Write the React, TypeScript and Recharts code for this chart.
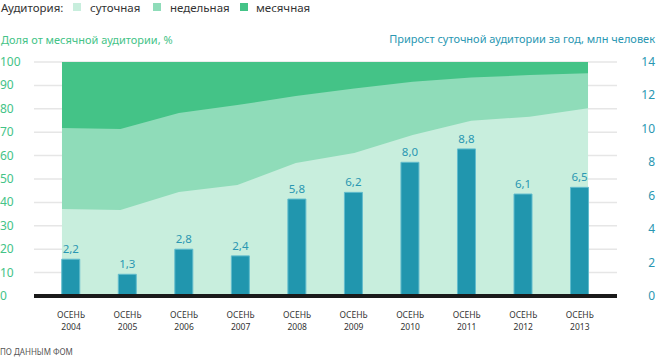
import { ComposedChart, Area, Bar, XAxis, YAxis, CartesianGrid, LabelList } from "recharts"

// Осень каждого года
const years = ["2004", "2005", "2006", "2007", "2008", "2009", "2010", "2011", "2012", "2013"]

// доля от месячной аудитории, % (накопительно)
const dailyShare = [37.2, 36.8, 44.4, 47.4, 56.8, 61.1, 68.8, 74.9, 76.6, 80.2]
const weeklyShare = [71.8, 71.4, 78.2, 81.6, 85.5, 88.7, 91.6, 93.4, 94.4, 95.2]
const monthlyShare = [100, 100, 100, 100, 100, 100, 100, 100, 100, 100]

// прирост суточной аудитории за год, млн человек
const dailyGrowth = [2.2, 1.3, 2.8, 2.4, 5.8, 6.2, 8.0, 8.8, 6.1, 6.5]

const leftTicks = [0, 10, 20, 30, 40, 50, 60, 70, 80, 90, 100]
const rightTicks = [0, 2, 4, 6, 8, 10, 12, 14]

const data = years.map((year, i) => ({
  idx: i,
  year,
  daily: dailyShare[i],
  weekly: weeklyShare[i],
  monthly: monthlyShare[i],
  growth: dailyGrowth[i],
}))

const FONT = "'Noto Sans', sans-serif"
const C_DAILY = "#c8eedd"
const C_WEEKLY = "#8fdcb9"
const C_MONTHLY = "#44c387"
const C_BAR = "#2196ae"
const C_TEAL = "#2a97b2"

const YearTick = (props: any) => {
  const { x, payload } = props
  return (
    <text textAnchor="middle" fontSize={8.5} fill="#333" fontFamily={FONT}>
      <tspan x={x} y={318}>ОСЕНЬ</tspan>
      <tspan x={x} y={330}>{years[payload.value]}</tspan>
    </text>
  )
}

const LeftTick = (props: any) => {
  const { y, payload } = props
  return (
    <text x={0} y={y + 4} textAnchor="start" fontSize={12} fill={C_MONTHLY} fontFamily={FONT}>
      {payload.value}
    </text>
  )
}

const RightTick = (props: any) => {
  const { y, payload } = props
  return (
    <text x={655} y={y + 4} textAnchor="end" fontSize={12} fill={C_TEAL} fontFamily={FONT}>
      {payload.value}
    </text>
  )
}

const legendItems = [
  { name: "суточная", color: C_DAILY, x: 73, tx: 90 },
  { name: "недельная", color: C_WEEKLY, x: 153, tx: 170 },
  { name: "месячная", color: C_MONTHLY, x: 240, tx: 256 },
]

export default function App() {
  return (
    <div style={{ position: "absolute", left: 0, top: 0, width: 656, height: 359, fontFamily: FONT }}>
      <div style={{ position: "absolute", left: 1, top: 0, fontSize: 11.5, color: "#333" }}>Аудитория:</div>
      {legendItems.map((it) => (
        <div key={it.name}>
          <div style={{ position: "absolute", left: it.x, top: 3, width: 8, height: 8, background: it.color }} />
          <div style={{ position: "absolute", left: it.tx, top: 0, fontSize: 11.5, color: "#333" }}>{it.name}</div>
        </div>
      ))}
      <div style={{ position: "absolute", left: 1, top: 32, fontSize: 11, color: C_MONTHLY }}>
        Доля от месячной аудитории, %
      </div>
      <div style={{ position: "absolute", right: 1, top: 31, fontSize: 11, color: C_TEAL, whiteSpace: "nowrap" }}>
        Прирост суточной аудитории за год, млн человек
      </div>
      <div style={{ position: "absolute", left: 0, top: 346, fontSize: 8, color: "#555" }}>ПО ДАННЫМ ФОМ</div>
      <ComposedChart
        width={656}
        height={359}
        data={data}
        margin={{ top: 62, right: 0, bottom: 0, left: 0 }}
      >
        <CartesianGrid vertical={false} stroke="#e6e6e6" strokeWidth={1.5} yAxisId="pct" />
        <XAxis
          xAxisId="area"
          dataKey="idx"
          type="number"
          orientation="top"
          height={0}
          domain={[-0.479, 9.496]}
          allowDataOverflow
          hide
        />
        <XAxis
          xAxisId="bar"
          dataKey="idx"
          type="number"
          domain={[-0.655, 9.658]}
          allowDataOverflow
          ticks={years.map((_, i) => i)}
          interval={0}
          tick={<YearTick />}
          tickLine={false}
          axisLine={{ stroke: "#1a1a1a", strokeWidth: 4 }}
          height={63}
        />
        <YAxis
          yAxisId="pct"
          orientation="left"
          width={34}
          domain={[0, 100]}
          ticks={leftTicks}
          interval={0}
          tick={<LeftTick />}
          axisLine={false}
          tickLine={false}
        />
        <YAxis
          yAxisId="mln"
          orientation="right"
          width={39}
          domain={[0, 14]}
          ticks={rightTicks}
          interval={0}
          tick={<RightTick />}
          axisLine={false}
          tickLine={false}
        />
        <Area
          xAxisId="area"
          yAxisId="pct"
          type="linear"
          dataKey="monthly"
          stroke="none"
          fill={C_MONTHLY}
          fillOpacity={1}
          isAnimationActive={false}
        />
        <Area
          xAxisId="area"
          yAxisId="pct"
          type="linear"
          dataKey="weekly"
          stroke="none"
          fill={C_WEEKLY}
          fillOpacity={1}
          isAnimationActive={false}
        />
        <Area
          xAxisId="area"
          yAxisId="pct"
          type="linear"
          dataKey="daily"
          stroke="none"
          fill={C_DAILY}
          fillOpacity={1}
          isAnimationActive={false}
        />
        <Bar
          xAxisId="bar"
          yAxisId="mln"
          dataKey="growth"
          barSize={18}
          fill={C_BAR}
          stroke="#62bccd"
          strokeWidth={1}
          isAnimationActive={false}
        >
          <LabelList
            dataKey="growth"
            position="top"
            offset={6}
            fontSize={11.5}
            fill={C_TEAL}
            fontFamily={FONT}
            formatter={(v: any) => Number(v).toFixed(1).replace(".", ",")}
          />
        </Bar>
      </ComposedChart>
    </div>
  )
}
